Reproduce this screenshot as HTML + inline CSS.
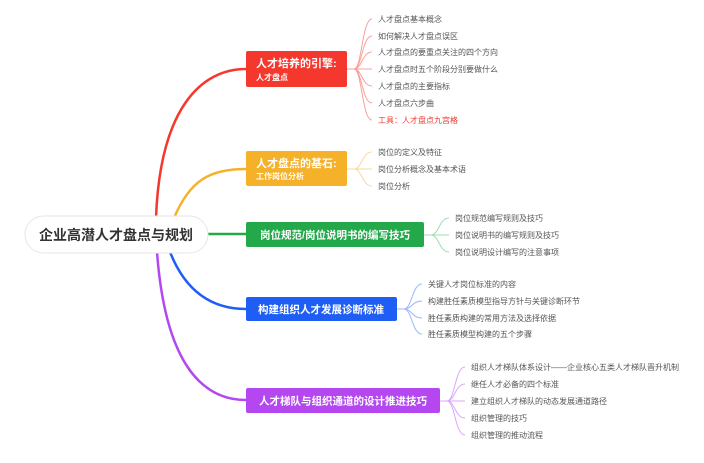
<!DOCTYPE html>
<html><head><meta charset="utf-8"><style>
html,body{margin:0;padding:0;background:#fff;}
svg text{font-family:"Liberation Sans","Noto Sans CJK SC",sans-serif;}
.k{font-size:8px;fill:#555;}
</style></head><body>
<svg width="704" height="458" viewBox="0 0 704 458" xmlns="http://www.w3.org/2000/svg">
<!-- main connectors -->
<g fill="none" stroke-width="2.5">
<path d="M156,218 C160,110 200,69 246,69" stroke="#f4382e"/>
<path d="M174,218 C190,180 210,169 246,169" stroke="#f6b12a"/>
<path d="M207,234 L246,234" stroke="#23a84a"/>
<path d="M170,252 C185,290 210,309 246,309" stroke="#1f5ef5"/>
<path d="M157,252 C165,360 200,400 246,400" stroke="#b447f0"/>
</g>
<!-- root -->
<rect x="25" y="216" width="183" height="37" rx="18.5" fill="#fff" stroke="#e6e6e6"/>
<text x="116" y="240" text-anchor="middle" font-size="14" font-weight="bold" fill="#333">企业高潜人才盘点与规划</text>
<!-- boxes -->
<rect x="246" y="51" width="101" height="36" rx="2" fill="#f4382e"/>
<text x="256" y="67" font-size="11" font-weight="bold" fill="#fff">人才培养的引擎:</text>
<text x="256" y="80" font-size="8" font-weight="bold" fill="#fff">人才盘点</text>
<rect x="246" y="151" width="101" height="35" rx="2" fill="#f6b12a"/>
<text x="256" y="167" font-size="11" font-weight="bold" fill="#fff">人才盘点的基石:</text>
<text x="256" y="179" font-size="8" font-weight="bold" fill="#fff">工作岗位分析</text>
<rect x="246" y="222" width="178" height="25" rx="2" fill="#23a84a"/>
<text x="335" y="238.5" text-anchor="middle" font-size="10.5" font-weight="bold" fill="#fff">岗位规范/岗位说明书的编写技巧</text>
<rect x="246" y="297" width="151" height="24" rx="2" fill="#1f5ef5"/>
<text x="321" y="313" text-anchor="middle" font-size="10.5" font-weight="bold" fill="#fff">构建组织人才发展诊断标准</text>
<rect x="246" y="388" width="194" height="25" rx="2" fill="#b447f0"/>
<text x="343" y="404.5" text-anchor="middle" font-size="10.5" font-weight="bold" fill="#fff">人才梯队与组织通道的设计推进技巧</text>
<!-- child connectors -->
<g fill="none" stroke-width="1">
<g stroke="#f9a09a">
<path d="M347,69 L354,69 C362,69 362,19 372,19"/><path d="M354,69 C362,69 362,36 372,36"/><path d="M354,69 C362,69 362,52 372,52"/><path d="M354,69 L372,69"/><path d="M354,69 C362,69 362,86 372,86"/><path d="M354,69 C362,69 362,103 372,103"/><path d="M354,69 C362,69 362,120 372,120"/>
</g>
<g stroke="#fbd89a">
<path d="M347,169 L354,169 C362,169 362,152 372,152"/><path d="M354,169 L372,169"/><path d="M354,169 C362,169 362,186 372,186"/>
</g>
<g stroke="#9ddcae">
<path d="M424,235 L431,235 C439,235 439,218 449,218"/><path d="M431,235 L449,235"/><path d="M431,235 C439,235 439,252 449,252"/>
</g>
<g stroke="#9bb8fa">
<path d="M397,309 L404,309 C412,309 412,284 422,284"/><path d="M404,309 C412,309 412,301 422,301"/><path d="M404,309 C412,309 412,318 422,318"/><path d="M404,309 C412,309 412,334 422,334"/>
</g>
<g stroke="#dca6f8">
<path d="M440,401 L447,401 C455,401 455,367 465,367"/><path d="M447,401 C455,401 455,384 465,384"/><path d="M447,401 L465,401"/><path d="M447,401 C455,401 455,418 465,418"/><path d="M447,401 C455,401 455,435 465,435"/>
</g>
</g>
<!-- child texts -->
<g class="k">
<text x="378" y="22" class="k">人才盘点基本概念</text>
<text x="378" y="39" class="k">如何解决人才盘点误区</text>
<text x="378" y="55" class="k">人才盘点的要重点关注的四个方向</text>
<text x="378" y="72" class="k">人才盘点时五个阶段分别要做什么</text>
<text x="378" y="89" class="k">人才盘点的主要指标</text>
<text x="378" y="106" class="k">人才盘点六步曲</text>
<text x="378" y="123" style="fill:#f4382e;font-size:8px">工具：人才盘点九宫格</text>
<text x="378" y="155" class="k">岗位的定义及特征</text>
<text x="378" y="172" class="k">岗位分析概念及基本术语</text>
<text x="378" y="189" class="k">岗位分析</text>
<text x="455" y="221" class="k">岗位规范编写规则及技巧</text>
<text x="455" y="238" class="k">岗位说明书的编写规则及技巧</text>
<text x="455" y="255" class="k">岗位说明设计编写的注意事项</text>
<text x="428" y="287" class="k">关键人才岗位标准的内容</text>
<text x="428" y="304" class="k">构建胜任素质模型指导方针与关键诊断环节</text>
<text x="428" y="321" class="k">胜任素质构建的常用方法及选择依据</text>
<text x="428" y="337" class="k">胜任素质模型构建的五个步骤</text>
<text x="471" y="370" class="k">组织人才梯队体系设计——企业核心五类人才梯队晋升机制</text>
<text x="471" y="387" class="k">继任人才必备的四个标准</text>
<text x="471" y="404" class="k">建立组织人才梯队的动态发展通道路径</text>
<text x="471" y="421" class="k">组织管理的技巧</text>
<text x="471" y="438" class="k">组织管理的推动流程</text>
</g>
</svg>
</body></html>
